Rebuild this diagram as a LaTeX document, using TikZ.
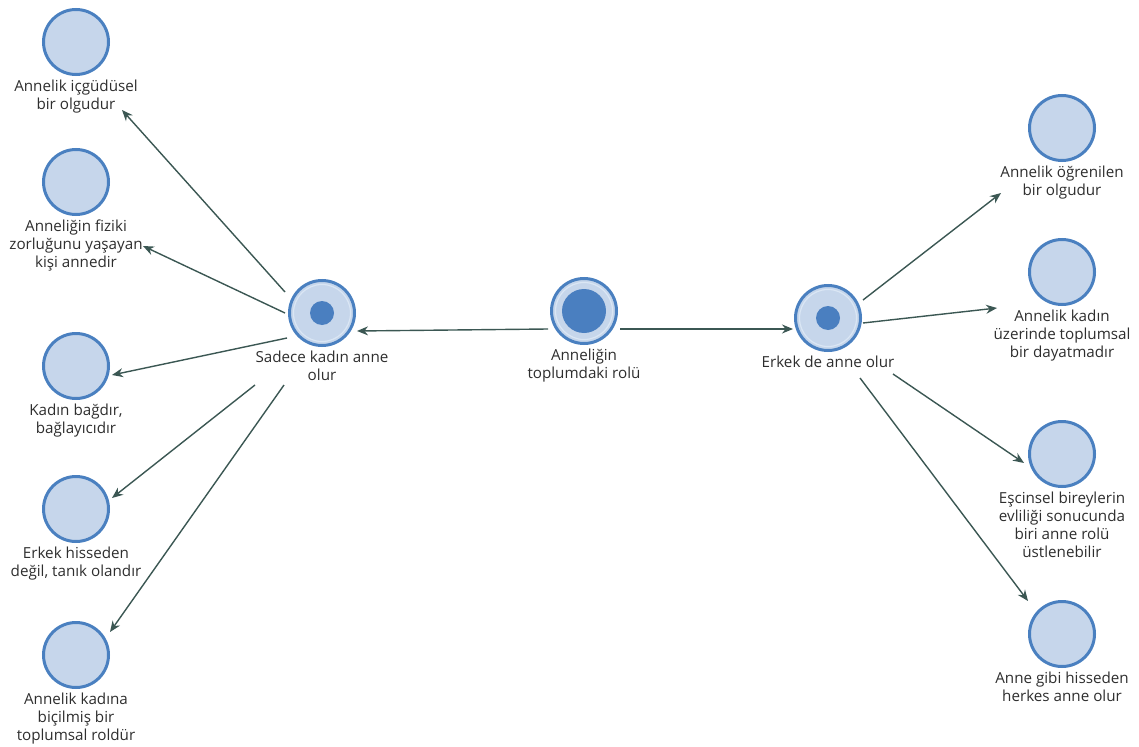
\documentclass[tikz,border=0pt]{standalone}
\usepackage{fontspec}
\setmainfont{Open Sans}
\usetikzlibrary{arrows.meta}
\definecolor{ringblue}{HTML}{4A80C0}
\definecolor{fillblue}{HTML}{C6D6EB}
\definecolor{dotblue}{HTML}{4A7FC0}
\definecolor{innerring}{HTML}{DAE6F4}
\definecolor{arrowcol}{HTML}{3B5753}
\definecolor{txt}{HTML}{2E2E2E}
\tikzset{
  leaf/.style={circle, draw=ringblue, line width=3pt, fill=fillblue, minimum size=65pt, inner sep=0pt},
  hub/.style={leaf, path picture={\draw[innerring, line width=1.2pt] (path picture bounding box.center) circle (28.5pt);}},
  dotsmall/.style={circle, fill=dotblue, minimum size=24pt, inner sep=0pt},
  dotbig/.style={circle, fill=dotblue, minimum size=44pt, inner sep=0pt},
  lbl/.style={anchor=north, inner sep=0pt, align=center, text=txt, font=\fontsize{15.2}{18}\selectfont},
  arr/.style={draw=arrowcol, line width=1.4pt, -{Stealth[length=11pt,width=9pt]}}
}
\begin{document}
\begin{tikzpicture}[x=1pt,y=-1pt]
\useasboundingbox (0,0) rectangle (1139,746);
% hubs
\node[hub] (S) at (322,313) {};
\node[dotsmall] (Sd) at (S.center) {};
\node[lbl] (Sl) at (322,351) {\rule{0pt}{11pt}Sadece kadın anne\\olur};
\node[hub] (M) at (584,311) {};
\node[dotbig] (Md) at (M.center) {};
\node[lbl] (Ml) at (584,349) {\rule{0pt}{11pt}Anneliğin\\toplumdaki rolü};
\node[hub] (E) at (828,318) {};
\node[dotsmall] (Ed) at (E.center) {};
\node[lbl] (El) at (828,356) {\rule{0pt}{11pt}Erkek de anne olur};
% left leaves
\node[leaf] (C1) at (76,42) {};
\node[lbl] (C1l) at (76,80) {\rule{0pt}{11pt}Annelik içgüdüsel\\bir olgudur};
\node[leaf] (C2) at (76,182) {};
\node[lbl] (C2l) at (76,220) {\rule{0pt}{11pt}Anneliğin fiziki\\zorluğunu yaşayan\\kişi annedir};
\node[leaf] (C3) at (76,366) {};
\node[lbl] (C3l) at (76,404) {\rule{0pt}{11pt}Kadın bağdır,\\bağlayıcıdır};
\node[leaf] (C4) at (76,509) {};
\node[lbl] (C4l) at (76,547) {\rule{0pt}{11pt}Erkek hisseden\\değil, tanık olandır};
\node[leaf] (C5) at (76,655) {};
\node[lbl] (C5l) at (76,693) {\rule{0pt}{11pt}Annelik kadına\\biçilmiş bir\\toplumsal roldür};
% right leaves
\node[leaf] (R1) at (1062,128) {};
\node[lbl] (R1l) at (1062,166) {\rule{0pt}{11pt}Annelik öğrenilen\\bir olgudur};
\node[leaf] (R2) at (1062,272) {};
\node[lbl] (R2l) at (1062,310) {\rule{0pt}{11pt}Annelik kadın\\üzerinde toplumsal\\bir dayatmadır};
\node[leaf] (R3) at (1062,454) {};
\node[lbl] (R3l) at (1062,492) {\rule{0pt}{11pt}Eşcinsel bireylerin\\evliliği sonucunda\\biri anne rolü\\üstlenebilir};
\node[leaf] (R4) at (1062,634) {};
\node[lbl] (R4l) at (1062,672) {\rule{0pt}{11pt}Anne gibi hisseden\\herkes anne olur};
% connectors
\draw[arr] ([shift={(-36,18)}]M.center) -- ([shift={(35,18)}]S.center);
\draw[arr] ([shift={(36,18)}]M.center) -- ([shift={(-35,11)}]E.center);
\draw[arr] ([shift={(-37,-21)}]S.center) -- ([shift={(46,68)}]C1.center);
\draw[arr] ([shift={(-37,0)}]S.center) -- ([shift={(67,64)}]C2.center);
\draw[arr] ([shift={(-35,25)}]S.center) -- ([shift={(36,9)}]C3.center);
\draw[arr] ([shift={(-67,72)}]S.center) -- ([shift={(36,-11)}]C4.center);
\draw[arr] ([shift={(-38,72)}]S.center) -- ([shift={(34,-23)}]C5.center);
\draw[arr] ([shift={(35,-18)}]E.center) -- ([shift={(-61,65)}]R1.center);
\draw[arr] ([shift={(35,5)}]E.center) -- ([shift={(-65,36)}]R2.center);
\draw[arr] ([shift={(65,56)}]E.center) -- ([shift={(-38,9)}]R3.center);
\draw[arr] ([shift={(32,60)}]E.center) -- ([shift={(-34,-33)}]R4.center);
\end{tikzpicture}
\end{document}
